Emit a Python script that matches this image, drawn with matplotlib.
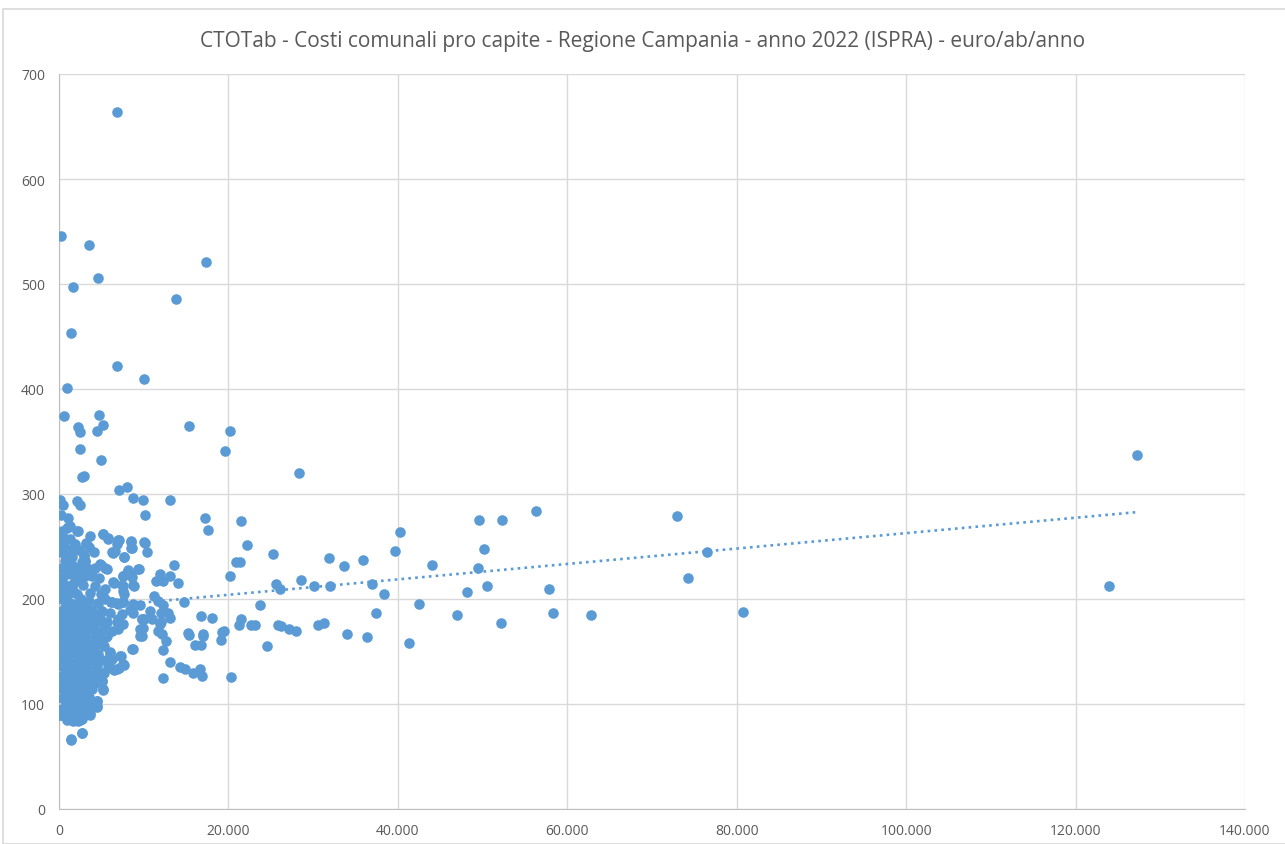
import numpy as np
import matplotlib
matplotlib.use("Agg")
import matplotlib.pyplot as plt
from matplotlib.ticker import FuncFormatter
from matplotlib.patches import Rectangle

# abitanti (x) e costo pro capite euro/ab/anno (y)

# comuni con costi molto alti
pop_high = [6790, 180, 3600, 1700, 4550, 17380, 13870, 1360, 6790, 10090, 890, 560,
            2270, 2420, 4460, 4780, 5250, 2460, 15370, 19540, 20130, 4900, 2700, 2900,
            28300, 7100, 8050]
cost_high = [664, 546, 537, 497, 506, 521, 486, 453, 422, 410, 401, 374,
             364, 359, 360, 375, 366, 343, 365, 341, 360, 332, 316, 317,
             320, 304, 307]

# fascia 200-300, comuni piccoli e medi
pop_mid = [100, 450, 2150, 2500, 8680, 9900, 13160, 10210, 1080, 1080, 17180, 17530,
           21510, 22170, 25240, 2270, 3200, 5170, 5760, 7140, 6820, 6350, 8520, 8480,
           10060, 10330, 7730, 690, 2930, 3050, 13600, 9420, 8170, 4900, 5690, 3520,
           2810, 7530, 8520, 11870, 11470, 13050, 12250, 14070, 20130, 20920, 21310, 6550,
           7610, 8830, 7730, 25560, 26030, 11160, 11670, 12260, 14700, 23670, 4900, 5170,
           6160, 6870, 7530, 8720]
cost_mid = [294, 290, 293, 290, 296, 294, 294, 280, 277, 269, 277, 266,
            274, 251, 243, 265, 252, 262, 258, 256, 252, 244, 255, 249,
            254, 245, 240, 242, 242, 236, 232, 229, 228, 232, 229, 225,
            222, 222, 224, 224, 217, 222, 217, 215, 222, 235, 235, 215,
            212, 212, 205, 214, 210, 203, 198, 194, 197, 194, 205, 203,
            197, 196, 197, 193]

# fascia sotto 200, comuni medi
pop_low = [8680, 10800, 11000, 12060, 12850, 13160, 9740, 16740, 18080, 21190, 21510, 23080,
           25830, 26230, 27130, 27920, 12020, 11670, 12140, 12650, 9900, 9580, 5570, 7020,
           7020, 7300, 15330, 16000, 16790, 17030, 19260, 19070, 24500, 8680, 12220, 6040,
           5880, 7260, 13050, 5760, 6550, 7140, 7730, 14230, 14900, 15800, 16620, 16900,
           12220, 20250, 5100, 5250, 4510, 4460, 3680, 140, 1360, 2740, 1560, 2420,
           11870, 10090, 15210, 16980, 19420, 22690]
cost_low = [187, 189, 181, 187, 187, 182, 181, 184, 182, 175, 181, 175,
            175, 174, 171, 170, 178, 170, 167, 160, 172, 165, 164, 181,
            171, 176, 166, 156, 156, 165, 169, 161, 155, 152, 151, 150,
            144, 146, 140, 135, 132, 134, 137, 135, 133, 130, 133, 127,
            125, 126, 122, 114, 103, 97, 91, 90, 66, 72, 85, 85,
            176, 181, 168, 167, 170, 175]

# comuni grandi
pop_big = [28550, 30090, 31940, 36930, 38310, 48110, 50550, 57830, 30560, 31340, 33980, 36300,
           37370, 42520, 41260, 47010, 52120, 58340, 62830, 80690, 49600, 52330, 56330, 40200,
           39720, 50110, 31930, 33670, 35830, 44060, 49490, 72940, 76520, 74200, 123900, 127300]
cost_big = [218, 212, 212, 214, 205, 207, 212, 210, 175, 177, 167, 164,
            187, 195, 158, 185, 177, 187, 185, 188, 275, 275, 284, 264,
            246, 248, 239, 231, 237, 232, 230, 279, 245, 220, 212, 337]

# nuvola densa dei comuni piccoli
pop_dense = [890, 2070, 490, 300, 1280, 3130, 5210, 5800, 6990, 6590, 8480, 8560,
             10130, 6310, 7690, 690, 690, 2970, 3050, 300, 1480, 2070, 4820, 5410,
             8170, 9350, 7570, 8560, 3050, 3450, 300, 890, 1870, 1670, 2850, 6400,
             7380, 8760, 7570, 100, 890, 2070, 5020, 5410, 6200, 6990, 7570, 8760,
             9540, 300, 1080, 2460, 3050, 3840, 5020, 6000, 7380, 8360, 9740, 300,
             890, 1870, 2850, 3640, 4630, 5610, 6790, 7570, 300, 1480, 2460, 3450,
             4040, 5020, 6200, 9540, 300, 1480, 3050, 4230, 5610, 9740, 690, 2070,
             3450, 4430, 8560, 490, 1480, 2660, 3840, 4630, 6000, 7180, 6200, 300,
             1280, 2270, 3250, 4230, 6000, 6790, 7570, 490, 1480, 2660, 3640, 300,
             1080, 2070, 3250, 5020, 890, 1870, 2850, 3840, 5210, 690, 1480, 2460,
             300, 1280, 2270, 4430, 4430, 1080, 1870, 100, 890, 1480, 2070, 2660,
             3640, 1080, 1360, 2730,
             200, 600, 1000, 1500, 1900, 2400, 500, 1200, 1600, 2300, 2600, 3300,
             3700, 4200, 4600, 3900, 200, 650, 1150, 1650, 2200, 2700, 3200, 4300,
             4800, 5300, 150, 800, 1150, 1700, 2200, 2650, 3700, 4800, 5300, 350,
             1000, 1750, 2300, 3100, 4000, 5100, 700, 1750, 2900, 3500, 4500, 5300,
             200, 700, 1300, 1800, 2500, 2900, 3900, 4200, 450, 1200, 2200, 3200,
             3500, 600, 1700, 2900, 3500, 800, 2500, 3000, 1900, 1700, 2300, 900,
             400, 2800, 400, 1400, 2600, 3600, 4100, 2100, 1300, 200, 900, 2400,
             3000, 4600, 1600, 2700, 1900, 3300, 500, 1300, 3300, 600, 1000, 1800,
             2700, 1500, 900, 400, 1300, 200, 4100, 3600, 4300, 4700, 5400, 3700]
cost_dense = [268, 265, 259, 254, 257, 253, 262, 257, 256, 246, 254, 249,
              253, 245, 240, 243, 236, 241, 236, 230, 232, 230, 233, 230,
              227, 229, 222, 221, 222, 224, 221, 224, 219, 214, 213, 216,
              213, 213, 208, 208, 206, 205, 205, 200, 197, 195, 197, 195,
              194, 200, 197, 198, 194, 190, 189, 187, 186, 190, 181, 189,
              186, 183, 184, 181, 179, 178, 178, 176, 176, 174, 173, 173,
              171, 170, 170, 171, 164, 168, 167, 165, 165, 165, 157, 157,
              156, 157, 152, 151, 149, 149, 146, 148, 149, 146, 143, 141,
              140, 141, 140, 141, 135, 133, 138, 135, 133, 133, 132, 127,
              125, 127, 124, 122, 119, 117, 119, 114, 113, 113, 111, 110,
              106, 105, 105, 103, 98, 100, 98, 90, 95, 90, 87, 86,
              90, 87, 67, 72,
              245, 250, 248, 245, 252, 247, 215, 212, 228, 218, 226, 230,
              206, 212, 196, 222, 183, 192, 180, 195, 190, 178, 186, 186,
              182, 175, 170, 168, 162, 160, 165, 162, 160, 160, 155, 155,
              146, 152, 150, 154, 152, 142, 142, 138, 144, 146, 135, 130,
              115, 127, 130, 128, 125, 130, 125, 120, 120, 115, 118, 112,
              107, 108, 104, 104, 98, 102, 95, 92, 92, 84, 84, 85,
              95, 97, 180, 188, 200, 198, 176, 175, 175, 138, 133, 137,
              122, 128, 120, 112, 110, 118, 145, 155, 162, 175, 202, 207,
              235, 240, 230, 265, 270, 280, 245, 250, 230, 220, 210, 260]

pop = np.array(pop_high + pop_mid + pop_low + pop_big + pop_dense, dtype=float)
cost = np.array(cost_high + cost_mid + cost_low + cost_big + cost_dense, dtype=float)

blue = "#5b9bd5"
grey_txt = "#595959"
grid_c = "#d9d9d9"

fig = plt.figure(figsize=(12.85, 8.45), dpi=100)
fig.patches.append(Rectangle((3 / 1285, 0), 1, 1 - 10 / 845, transform=fig.transFigure,
                             fill=False, edgecolor=grid_c, linewidth=1.2))
ax = fig.add_axes([59 / 1285, 35 / 845, 1186 / 1285, 735 / 845])

ax.scatter(pop, cost, s=58, color=blue, linewidths=0, zorder=3)

# linea di tendenza lineare
k, q = np.polyfit(pop, cost, 1)
xs = np.array([pop.min(), pop.max()])
ax.plot(xs, k * xs + q, color=blue, linewidth=1.9, linestyle=(0, (1, 1.6)), zorder=2)

ax.set_xlim(0, 140000)
ax.set_ylim(0, 700)
ax.set_xticks(np.arange(0, 140001, 20000))
ax.set_yticks(np.arange(0, 701, 100))
ax.xaxis.set_major_formatter(FuncFormatter(lambda v, _: f"{int(v):,}".replace(",", ".")))
ax.grid(True, color=grid_c, linewidth=1.0, zorder=0)
ax.set_axisbelow(True)
for s in ["top", "right"]:
    ax.spines[s].set_visible(False)
for s in ["left", "bottom"]:
    ax.spines[s].set_color("#bfbfbf")
ax.tick_params(length=0, labelsize=10, labelcolor=grey_txt, pad=10)
for lab in ax.get_xticklabels() + ax.get_yticklabels():
    lab.set_fontfamily("Open Sans")

fig.text(0.5, 1 - 42 / 845, "CTOTab - Costi comunali pro capite - Regione Campania - anno 2022 (ISPRA) - euro/ab/anno",
         ha="center", va="center", fontsize=15, color=grey_txt, family="Open Sans")

fig.savefig("out.png", dpi=100)
